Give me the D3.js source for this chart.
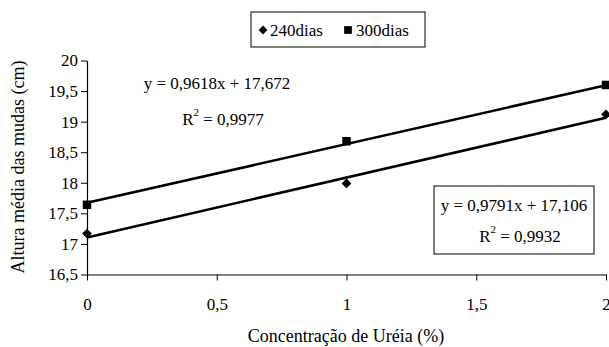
<!DOCTYPE html>
<html>
<head>
<meta charset="utf-8">
<script src="https://cdn.jsdelivr.net/npm/d3@7"></script>
<style>
body { margin: 0; background: #fff; }
svg { display: block; }
svg text { font-family: "Liberation Serif", "Times New Roman", serif; fill: #000; }
</style>
</head>
<body>
<svg id="chart" width="609" height="347"></svg>
<script>
// data
var conc = [0, 1, 2];
var dias240 = [17.17, 17.99, 19.12];
var dias300 = [17.64, 18.68, 19.6];
var seriesNames = ["240dias", "300dias"];
var trendSlope = [0.9791, 0.9618];
var trendIntercept = [17.106, 17.672];
var eqText = ["y = 0,9791x + 17,106", "y = 0,9618x + 17,672"];
var r2Text = [" = 0,9932", " = 0,9977"];
var xTicks = [0, 0.5, 1, 1.5, 2];
var yTicks = [16.5, 17, 17.5, 18, 18.5, 19, 19.5, 20];

var svg = d3.select("#chart");
var fmt = d => String(d).replace(".", ",");

var x = d3.scaleLinear().domain([0, 2]).range([87, 606]);
var y = d3.scaleLinear().domain([16.5, 20]).range([274.5, 60.5]);

// x axis (grey line, black ticks)
var gx = svg.append("g").attr("transform", "translate(0,274.5)")
	.call(d3.axisBottom(x).tickValues(xTicks).tickFormat(fmt).tickSize(6).tickSizeOuter(0));
gx.select(".domain").attr("stroke", "#808080").attr("stroke-width", 2);
gx.selectAll(".tick line").attr("stroke", "#000");
gx.selectAll("text").attr("font-size", 17).attr("y", 35).attr("dy", 0);

// y axis
var gy = svg.append("g").attr("transform", "translate(87,0)")
	.call(d3.axisLeft(y).tickValues(yTicks).tickFormat(fmt).tickSize(6).tickSizeOuter(0));
gy.select(".domain").attr("stroke", "#000").attr("stroke-width", 1.2);
gy.selectAll("text").attr("font-size", 17).attr("x", -9);

// axis titles
svg.append("text").attr("x", 346).attr("y", 342).attr("text-anchor", "middle")
	.attr("font-size", 18).text("Concentração de Uréia (%)");
svg.append("text").attr("transform", "translate(24,167) rotate(-90)").attr("text-anchor", "middle")
	.attr("font-size", 18).text("Altura média das mudas (cm)");

// trend lines
[0, 1].forEach(function (i) {
	svg.append("line")
		.attr("x1", x(0)).attr("y1", y(trendIntercept[i]))
		.attr("x2", x(2)).attr("y2", y(trendIntercept[i] + trendSlope[i] * 2))
		.attr("stroke", "#000").attr("stroke-width", 2.6);
});

// markers
var diamond = d3.symbol().type(d3.symbolDiamond2).size(60);
var square = d3.symbol().type(d3.symbolSquare).size(72);
svg.selectAll(".d240").data(dias240).enter().append("path")
	.attr("transform", (d, i) => `translate(${x(conc[i])},${y(d)})`)
	.attr("d", diamond).attr("fill", "#000");
svg.selectAll(".d300").data(dias300).enter().append("path")
	.attr("transform", (d, i) => `translate(${x(conc[i])},${y(d)})`)
	.attr("d", square).attr("fill", "#000");

// equation texts
function equation(cx, cy, gap, i) {
	svg.append("text").attr("x", cx).attr("y", cy).attr("text-anchor", "middle")
		.attr("font-size", 17).text(eqText[i]);
	var t = svg.append("text").attr("x", cx + 6).attr("y", cy + gap).attr("text-anchor", "middle").attr("font-size", 17);
	t.append("tspan").text("R");
	t.append("tspan").attr("dy", -9).attr("font-size", 11).text("2");
	t.append("tspan").attr("dy", 9).text(r2Text[i]);
}
equation(217, 89, 36, 1);
svg.append("rect").attr("x", 434).attr("y", 186).attr("width", 160).attr("height", 68)
	.attr("fill", "#fff").attr("stroke", "#000").attr("stroke-width", 1);
equation(514, 211, 31, 0);

// legend
svg.append("rect").attr("x", 251).attr("y", 12).attr("width", 174).attr("height", 35)
	.attr("fill", "#fff").attr("stroke", "#000").attr("stroke-width", 1);
svg.append("path").attr("transform", "translate(263,30)").attr("d", d3.symbol().type(d3.symbolDiamond2).size(50)).attr("fill", "#000");
svg.append("text").attr("x", 270).attr("y", 36).attr("font-size", 17).text(seriesNames[0]);
svg.append("path").attr("transform", "translate(348,30)").attr("d", d3.symbol().type(d3.symbolSquare).size(60)).attr("fill", "#000");
svg.append("text").attr("x", 356).attr("y", 36).attr("font-size", 17).text(seriesNames[1]);
</script>
</body>
</html>
